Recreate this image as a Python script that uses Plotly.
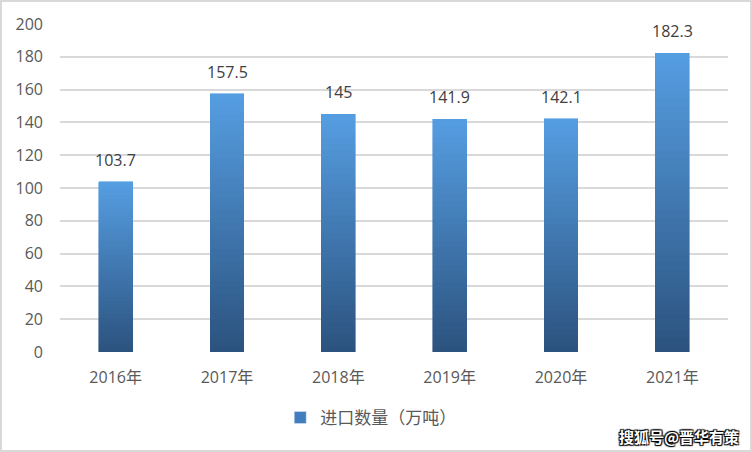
import plotly.graph_objects as go

years = ["2016年", "2017年", "2018年", "2019年", "2020年", "2021年"]
values = [103.7, 157.5, 145, 141.9, 142.1, 182.3]
value_labels = ["103.7", "157.5", "145", "141.9", "142.1", "182.3"]
series_name = "进口数量（万吨）"
y_ticks = [0, 20, 40, 60, 80, 100, 120, 140, 160, 180, 200]

W, H = 752, 452
L, R, T, B = 60, 24, 24, 100
N = 40
top_rgb = (86, 158, 226)
bot_rgb = (43, 82, 126)
FONT = "Open Sans, Noto Sans CJK SC, sans-serif"
CJK = "Noto Sans CJK SC, sans-serif"

fig = go.Figure()
for i in range(N):
    f = (i + 0.5) / N
    c = tuple(round(bot_rgb[k] + (top_rgb[k] - bot_rgb[k]) * f) for k in range(3))
    col = "rgb(%d,%d,%d)" % c
    fig.add_trace(go.Bar(
        x=years, y=[v / N for v in values],
        marker=dict(color=col, line=dict(color=col, width=0.6)),
        showlegend=False, hoverinfo="skip", width=0.305,
    ))

for yr, v, lab in zip(years, values, value_labels):
    fig.add_annotation(x=yr, y=v, text=lab, showarrow=False,
                       yanchor="bottom", yshift=9,
                       font=dict(family=FONT, size=16, color="#404040"))

fig.add_trace(go.Bar(
    x=[None], y=[None], name=series_name,
    marker=dict(color="rgb(66,125,190)"), showlegend=True,
))

pw = W - L - R
ph = H - T - B
fig.add_shape(type="rect", xref="paper", yref="paper",
              x0=-(L - 1) / pw, x1=1 + (R - 1) / pw,
              y0=-(B - 1) / ph, y1=1 + (T - 1) / ph,
              line=dict(color="#D9D9D9", width=2), layer="below")

fig.add_annotation(
    xref="paper", yref="paper", x=(741 - L) / pw, y=-(436 - (H - B)) / ph,
    xanchor="right", yanchor="middle", showarrow=False,
    text="<b>搜狐号@晋华有策</b>",
    font=dict(family=CJK, size=15, color="white",
              shadow="1px 1px 1px #000, -1px -1px 1px #000, 1px -1px 1px #000, -1px 1px 1px #000"),
)

fig.update_layout(
    width=W, height=H,
    margin=dict(l=L, r=R, t=T, b=B, pad=0),
    paper_bgcolor="white", plot_bgcolor="white",
    barmode="stack", bargap=0.69,
    font=dict(family=FONT, size=16, color="#595959"),
    legend=dict(orientation="h", xref="container", yref="container",
                x=0.493, xanchor="center", y=1 - 418 / H, yanchor="middle",
                font=dict(family=CJK, size=17, color="#595959"),
                itemwidth=30),
    xaxis=dict(showgrid=False, showline=False, zeroline=False,
               ticks="", ticklabelstandoff=14,
               tickfont=dict(family=FONT, size=16, color="#595959")),
    yaxis=dict(range=[0, 200], tickvals=y_ticks, showgrid=True,
               gridcolor="#D9D9D9", gridwidth=1.5, zeroline=False,
               showline=False, ticks="", ticklabelstandoff=16,
               tickfont=dict(family=FONT, size=16, color="#595959")),
)

fig.write_html("out.html", config={"displayModeBar": False},
               post_script="document.body.style.margin='0';")
